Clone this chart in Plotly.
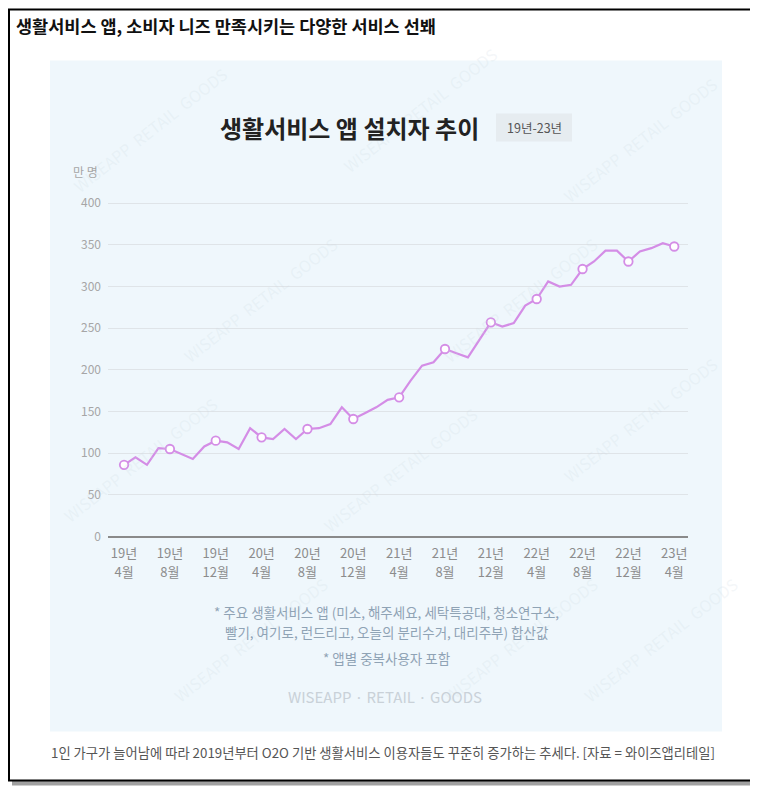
import plotly.graph_objects as go

# ---------------- data ----------------
months = ["19-04", "19-05", "19-06", "19-07", "19-08", "19-09", "19-10", "19-11", "19-12",
          "20-01", "20-02", "20-03", "20-04", "20-05", "20-06", "20-07", "20-08", "20-09",
          "20-10", "20-11", "20-12", "21-01", "21-02", "21-03", "21-04", "21-05", "21-06",
          "21-07", "21-08", "21-09", "21-10", "21-11", "21-12", "22-01", "22-02", "22-03",
          "22-04", "22-05", "22-06", "22-07", "22-08", "22-09", "22-10", "22-11", "22-12",
          "23-01", "23-02", "23-03", "23-04"]
installs = [86, 95, 86, 106, 105, 99, 93, 108, 115,
            113, 105, 130, 119, 117, 129, 117, 129, 130,
            135, 155, 141, 148, 155, 164, 167, 187, 205,
            209, 225, 220, 215, 236, 257, 252, 256, 277,
            285, 306, 300, 302, 321, 330, 343, 343, 330,
            342, 346, 352, 348]
tick_years = ["19년", "19년", "19년", "20년", "20년", "20년", "21년",
              "21년", "21년", "22년", "22년", "22년", "23년"]
tick_months = ["4월", "8월", "12월", "4월", "8월", "12월", "4월",
               "8월", "12월", "4월", "8월", "12월", "4월"]
y_ticks = [0, 50, 100, 150, 200, 250, 300, 350, 400]

page_title = "생활서비스 앱, 소비자 니즈 만족시키는 다양한 서비스 선봬"
chart_title = "생활서비스 앱 설치자 추이"
badge_text = "19년-23년"
unit_text = "만 명"
note1 = "* 주요 생활서비스 앱 (미소, 해주세요, 세탁특공대, 청소연구소,"
note2 = "빨기, 여기로, 런드리고, 오늘의 분리수거, 대리주부) 합산값"
note3 = "* 앱별 중복사용자 포함"
brand = "WISEAPP · RETAIL · GOODS"
caption = "1인 가구가 늘어남에 따라 2019년부터 O2O 기반 생활서비스 이용자들도 꾸준히 증가하는 추세다. [자료 = 와이즈앱리테일]"

FONT = "Noto Sans CJK KR"
idx = list(range(len(months)))
step = 4
mark_idx = idx[::step]
mark_val = installs[::step]

# ---------------- geometry (reference pixels; page has an 8px body offset) ----------------
OFF = 8
W_FIG, H_FIG = 758 - OFF, 795 - OFF
L, R = 108, 688
T, B = 198.7, 539.2
PW, PH = R - L, B - T
X_RANGE = [-1.4, 49.2]


def px(x):
    return (x - L) / PW


def py(y):
    return (B - y) / PH


LINE = "#d48de6"

fig = go.Figure()
fig.add_trace(go.Scatter(
    x=idx, y=installs, mode="lines",
    line=dict(color=LINE, width=2.2),
    hoverinfo="skip", showlegend=False,
))
fig.add_trace(go.Scatter(
    x=mark_idx, y=mark_val, mode="markers", xaxis="x2",
    marker=dict(size=8.5, color="white", line=dict(color=LINE, width=1.8)),
    showlegend=False,
))

shapes = []
# shadow + card border
shapes.append(dict(type="rect", xref="paper", yref="paper", layer="below",
                   x0=px(12), x1=px(757), y0=py(12), y1=py(786),
                   fillcolor="#a0a0a0", line=dict(width=0)))
shapes.append(dict(type="rect", xref="paper", yref="paper", layer="below",
                   x0=px(9), x1=px(752), y0=py(9), y1=py(781),
                   fillcolor="white", line=dict(color="black", width=2)))
# light blue panel
shapes.append(dict(type="rect", xref="paper", yref="paper", layer="below",
                   x0=px(50), x1=px(722), y0=py(60), y1=py(732),
                   fillcolor="#eff7fc", line=dict(width=0)))
# badge
shapes.append(dict(type="rect", xref="paper", yref="paper", layer="below",
                   x0=px(496), x1=px(572), y0=py(113), y1=py(141),
                   fillcolor="#e6ecf0", line=dict(width=0)))

annotations = []


def ann(text, x, y, size, color, bold=False, xanchor="center", angle=0):
    annotations.append(dict(
        text=f"<b>{text}</b>" if bold else text,
        x=px(x), y=py(y), xref="paper", yref="paper",
        xanchor=xanchor, yanchor="middle", showarrow=False,
        textangle=angle,
        font=dict(family=FONT, size=size, color=color),
    ))


# watermarks
wm = "WISEAPP  RETAIL  GOODS"
for (wx, wy) in [(150, 130), (420, 110), (640, 140), (260, 300), (520, 300),
                 (140, 460), (400, 470), (640, 420), (250, 640), (520, 640), (660, 640)]:
    ann(wm, wx, wy, 16, "rgba(205,215,225,0.22)", angle=-38)

ann(page_title, 14, 25, 17.5, "#111111", bold=True, xanchor="left")
ann(chart_title, 349, 127, 24, "#222222", bold=True)
ann(badge_text, 534, 127, 12.5, "#555555")
ann(unit_text, 85, 171, 12, "#a6a6a6")
ann(note1, 386, 612, 13.5, "#8fa3b5")
ann(note2, 386, 632, 13.5, "#8fa3b5")
ann(note3, 386, 658, 13.5, "#8fa3b5")
ann(brand, 385, 697, 15, "#c9d1d8")
ann(caption, 49, 753, 13.3, "#555555", xanchor="left")

tick_font = dict(family=FONT, size=13, color="#8c8c8c")

fig.update_layout(
    width=W_FIG, height=H_FIG,
    margin=dict(l=L - OFF, r=758 - R, t=T - OFF, b=795 - B, pad=0),
    paper_bgcolor="white",
    plot_bgcolor="rgba(0,0,0,0)",
    font=dict(family=FONT),
    shapes=shapes,
    annotations=annotations,
    showlegend=False,
    xaxis=dict(
        range=X_RANGE, showgrid=False, zeroline=False,
        tickmode="array", tickvals=mark_idx, ticktext=tick_years,
        tickfont=tick_font, ticklabelstandoff=5,
        ticks="", showline=False, fixedrange=True,
    ),
    xaxis2=dict(
        range=X_RANGE, overlaying="x", side="bottom", anchor="y",
        showgrid=False, zeroline=False,
        tickmode="array", tickvals=mark_idx, ticktext=tick_months,
        tickfont=tick_font, ticklabelstandoff=24,
        ticks="", showline=False, fixedrange=True,
    ),
    yaxis=dict(
        range=[-3, 405], tickmode="array", tickvals=y_ticks,
        showgrid=True, gridcolor="#dfe4e8", gridwidth=1,
        zeroline=True, zerolinecolor="#8a8a8a", zerolinewidth=2,
        tickfont=dict(family=FONT, size=12, color="#a6a6a6"),
        ticklabelstandoff=6,
        ticks="", showline=False, fixedrange=True,
    ),
)

fig.write_html("out.html")
